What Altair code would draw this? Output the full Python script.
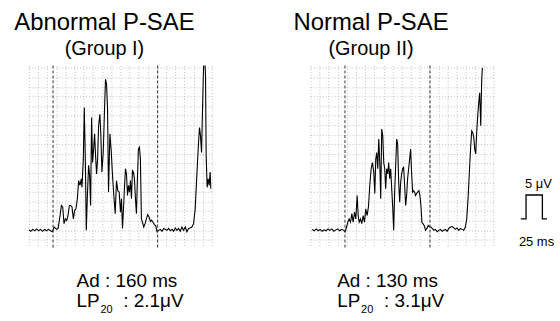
import altair as alt
import pandas as pd

# ---------------- data ----------------
# Panel I: Abnormal P-SAE (Group I) -- time (ms), filtered P-wave amplitude (µV)
t1 = [0, 3, 6, 9, 12, 15, 18, 21, 24, 27, 30, 33, 36, 38.6, 42.7, 44.7, 47.8, 49.8, 51.8, 53.8,
      55.9, 57.9, 59.9, 62, 64, 66, 68.1, 70.1, 72.1, 74.2, 76.2, 78.2, 80.3, 81.3, 83.3, 84.8,
      86.4, 87.9, 89.4, 91.4, 93, 94.5, 96, 97.5, 99.1, 100.6, 102.1, 103.6, 105.2, 106.7, 108.7,
      110.2, 111.8, 113.8, 115.8, 117.3, 118.9, 120.4, 121.9, 124, 126, 128, 130, 132.1, 134.1,
      136.1, 138.2, 140.2, 141.7, 143.3, 144.8, 146.3, 147.8, 149.4, 150.9, 152.4, 153.9, 155.5,
      157, 158.5, 160, 161.5, 163.1, 164.6, 166.1, 167.6, 169.2, 170.7, 172.2, 173.7, 175.8,
      177.8, 179.8, 181.9, 183.9, 185.9, 187.9, 190, 192, 194.1, 196.1, 198.6, 201.2, 203.7,
      206.3, 211.3, 213.9, 216.4, 219, 221.5, 224, 226.6, 229.1, 231.6, 234.2, 236.7, 239.3,
      241.8, 244.3, 246.9, 249.4, 252, 254.5, 257, 259.6, 261.1, 262.6, 264.2, 265.7, 267.2,
      268.7, 270.3, 271.3, 272.8, 274.3, 275.9, 277.4, 278.4]
v1 = [0.1, -0.2, 0.2, -0.1, 0.3, -0.1, 0.2, -0.2, 0.2, -0.1, 0.2, -0.1, -0.3, 0.7, 0.2, 0.4, 3.1,
      5.2, 4.9, 1.4, 2.4, 2.1, 3.1, 5.2, 5.2, 4.9, 2.4, 4.2, 4.5, 6.6, 10.4, 9.4, 10.8, 9.0, 14.9,
      25.7, 14.9, 0.0, 6.6, 13.6, 11.5, 5.2, 23.6, 14.2, 17.0, 20.2, 15.6, 11.8, 14.9, 21.9, 24.3,
      19.8, 12.2, 16.3, 25.4, 31.6, 30.6, 25.4, 8.0, 20.2, 16.7, 11.5, 7.3, 3.5, 10.4, 8.3, 8.0,
      3.8, 6.6, 0.4, 4.5, 9.0, 12.9, 11.8, 7.3, 9.4, 8.0, 10.4, 6.6, 12.5, 12.2, 10.8, 6.6, 3.5,
      10.8, 17.0, 17.4, 14.9, 2.4, 1.7, 0.7, 1.4, 2.4, 3.3, 2.8, 1.9, 2.1, 1.7, 1.2, 1.0, -0.3,
      0.0, 0.2, -0.2, 0.4, 0.0, 0.4, -0.1, 0.2, -0.2, 0.5, 0.0, 0.4, -0.2, 0.7, 0.0, 0.7, -0.3,
      0.4, 0.5, 0.7, 1.4, 4.5, 11.5, 18.4, 21.5, 19.8, 16.3, 25.4, 33.7, 37.9, 32.3, 15.6, 9.0,
      10.8, 9.4, 12.2, 8.7]

# Panel II: Normal P-SAE (Group II)
t2 = [2.5, 6, 9, 12, 15, 18, 21, 24, 27, 30, 33, 36, 39, 42, 45, 48, 51, 53.3, 55.4, 57.4, 59.4,
      61.5, 63.5, 65.5, 67.6, 69.6, 71.6, 73.2, 74.7, 76.7, 78.7, 80.8, 82.8, 84.8, 86.9, 88.9,
      90.9, 93, 95, 97, 98.6, 100.1, 101.6, 103.1, 104.7, 106.2, 107.7, 109.2, 110.8, 112.3,
      113.8, 115.3, 116.8, 118.4, 119.9, 121.4, 122.9, 124.5, 126, 127.5, 129, 130.6, 132.1,
      133.6, 135.1, 136.7, 138.2, 139.7, 141.2, 142.7, 144.3, 145.8, 147.3, 148.8, 150.4, 151.9,
      153.4, 154.9, 156.5, 158, 159.5, 161, 162.6, 164.1, 166.1, 167.6, 169.2, 170.7, 172.2,
      174.2, 176.3, 178.3, 180.3, 182.4, 184.4, 186.4, 189, 191.5, 194.1, 196.6, 199.1, 201.7,
      204.2, 206.8, 209.3, 211.8, 214.4, 216.9, 219.5, 222, 224.5, 227.1, 229.6, 232.1, 234.7,
      237.2, 239.3, 241.3, 243.3, 245.4, 246.9, 248.4, 250, 251.5, 253, 254.5, 256.1, 257.6,
      259.1, 260.7, 262.2, 263.2]
v2 = [0.2, -0.1, 0.3, -0.1, 0.2, -0.2, 0.1, -0.1, 0.3, 0.0, 0.3, -0.2, 0.1, 0.3, -0.1, 0.2, 0.0,
      -0.3, 0.7, 1.7, 2.4, 1.7, 3.5, 1.7, 3.8, 2.4, 7.3, 3.1, 1.7, 2.4, 1.4, 3.1, 1.7, 4.5, 3.1,
      4.9, 9.4, 12.9, 14.2, 12.2, 7.7, 14.9, 16.3, 12.9, 19.1, 14.2, 6.6, 21.2, 19.8, 14.2, 12.9,
      8.7, 12.9, 11.8, 14.2, 10.8, 12.9, 8.7, 4.9, 0.0, 8.0, 13.6, 19.1, 18.1, 10.4, 5.9, 10.1,
      11.8, 12.9, 13.2, 9.4, 5.2, 7.3, 10.8, 12.9, 14.9, 17.0, 12.2, 8.0, 8.3, 8.0, 7.3, 7.7,
      8.0, 8.3, 7.3, 5.2, 1.7, 1.4, 1.0, 0.0, 0.4, 1.0, 0.7, 0.7, 0.4, 0.0, 0.2, -0.3, 0.0, 0.2,
      -0.2, 0.0, 0.2, -0.2, 0.4, 0.7, 0.8, 0.5, 0.2, 0.5, 0.0, 0.4, 0.2, 0.0, 0.7, 2.4, 6.6,
      12.2, 17.7, 20.8, 20.5, 19.5, 17.0, 16.0, 20.5, 24.0, 26.7, 28.8, 21.9, 31.6, 34.0]

# P-wave onset / offset markers (ms): Ad = 160 ms and 130 ms
marks1 = [37, 197]
marks2 = [53, 183]

# calibration pulse: 25 ms wide, 5 µV high
cal_t = [322, 330, 330, 355, 355, 362]
cal_v = [2.4, 2.4, 7.4, 7.4, 2.4, 2.4]
cal_labels = ["5 μV", "25 ms"]
cal_label_t = [349, 346]
cal_label_v = [8.9, -3.3]

titles = ["Abnormal P-SAE", "Normal P-SAE"]
subtitles = ["(Group I)", "(Group II)"]
ad_text = ["Ad : 160 ms", "Ad : 130 ms"]
lp_value = [": 2.1μV", ": 3.1μV"]

# grid positions
grid_t = list(range(0, 281, 14))
grid_v = list(range(-2, 35, 2))

# ---------------- chart ----------------
FONT = "Liberation Sans"
W, H = 184, 183
xs = alt.Scale(domain=[0, 280], nice=False, zero=False)
ys = alt.Scale(domain=[-3.6, 34.5], nice=False, zero=False)
gx = alt.Axis(values=grid_t, grid=True, labels=False, ticks=False, domain=False, title=None,
              gridColor="#9a9a9a", gridDash=[1, 2], gridWidth=1, gridOpacity=0.6)
gy = alt.Axis(values=grid_v, grid=True, labels=False, ticks=False, domain=False, title=None,
              gridColor="#9a9a9a", gridDash=[1, 2], gridWidth=1, gridOpacity=0.6)
X = alt.X("t:Q", scale=xs, axis=gx)
Y = alt.Y("v:Q", scale=ys, axis=gy)


def text(label, x, y, size=19, **kw):
    return alt.Chart(pd.DataFrame({"label": [label]})).mark_text(
        font=FONT, fontSize=size, align="left", baseline="alphabetic", color="black", **kw
    ).encode(text="label:N", x=alt.value(x), y=alt.value(y))


def panel(t, v, marks, i, xo, dx, extra=None):
    df = pd.DataFrame({"t": t, "v": v, "i": range(len(t))})
    line = alt.Chart(df).mark_line(color="black", strokeWidth=1.1, clip=True).encode(
        x=X, y=Y, order="i:Q")
    rules = alt.Chart(pd.DataFrame({"t": marks})).mark_rule(
        color="#333333", strokeDash=[3, 2], strokeWidth=1).encode(x=X)
    layers = [line, rules,
              text(ad_text[i], xo, 223),
              text("LP", xo, 243),
              text("20", xo + 24, 249, size=11),
              text(lp_value[i], xo + 47, 243)]
    if extra is not None:
        layers += extra
    return alt.layer(*layers).properties(
        width=W, height=H,
        title=alt.TitleParams(
            text=titles[i], subtitle=subtitles[i], fontSize=24, subtitleFontSize=20,
            font=FONT, subtitleFont=FONT, fontWeight="normal", color="black",
            subtitleColor="black", anchor="middle", frame="group", dx=dx,
            offset=6, subtitlePadding=4),
    )


cal_df = pd.DataFrame({"t": cal_t, "v": cal_v, "i": range(len(cal_t))})
cal_line = alt.Chart(cal_df).mark_line(color="black", strokeWidth=1.3, clip=False).encode(
    x=X, y=Y, order="i:Q")
cal_text = alt.Chart(pd.DataFrame({"t": cal_label_t, "v": cal_label_v, "label": cal_labels})).mark_text(
    font=FONT, fontSize=13, align="center", baseline="alphabetic", color="black", clip=False
).encode(x=X, y=Y, text="label:N")

p1 = panel(t1, v1, marks1, 0, 48, -16)
p2 = panel(t2, v2, marks2, 1, 27, -31, extra=[cal_line, cal_text])

chart = alt.hconcat(p1, p2, spacing=99, bounds="flush").properties(
    padding={"left": 14, "top": 10, "right": 5, "bottom": 5}
).configure_view(stroke=None)

chart.save("out.html", embed_options={"renderer": "svg", "actions": False})
